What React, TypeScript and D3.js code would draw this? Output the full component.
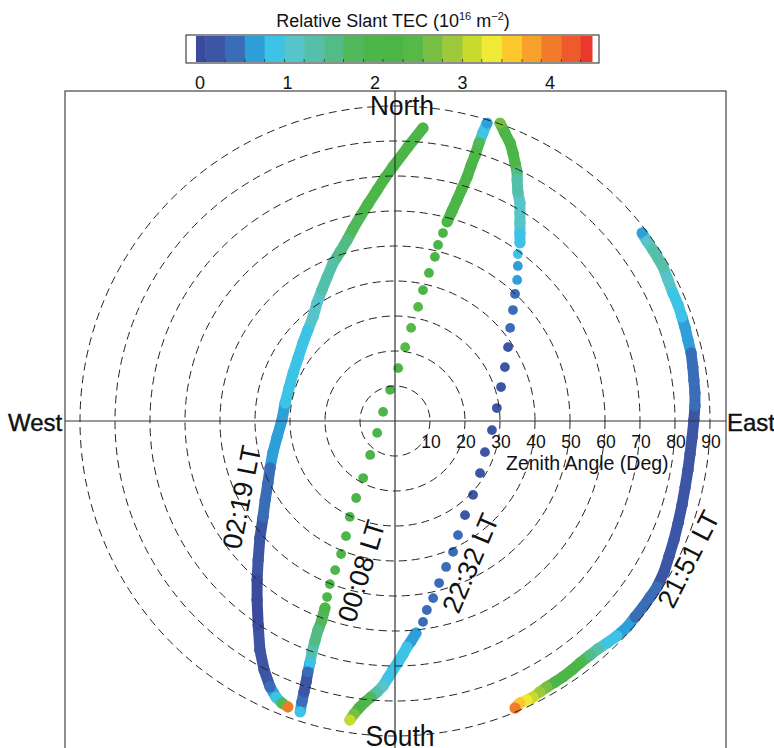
import React from 'react';
import * as d3 from 'd3';

const W = 774;
const H = 748;

// Colour bar (Relative Slant TEC, 10^16 m^-2)
const colorbarDomain = [-0.046, 4.48];
const colorbarBinEdges = [0.06, 0.286, 0.513, 0.739, 0.966, 1.19, 1.42, 1.64, 1.87, 2.09, 2.32, 2.55, 2.77, 3.0, 3.22, 3.45, 3.68, 3.9, 4.13, 4.35];
const colorbarColors = ['#3a4a9f', '#3d55a5', '#3a6db7', '#2f9fd9', '#3cc3e6', '#56c4c8', '#55c0aa', '#52bb86', '#50b85a', '#4cb748', '#4bb647', '#55b847', '#77be43', '#9ec93a', '#c9da2f', '#eeea36', '#fdc82b', '#f7a02a', '#f27a2b', '#ee5a2b', '#e9392a'];
const colorbarTicks = [0, 1, 2, 3, 4];
const zenithTicks = [10, 20, 30, 40, 50, 60, 70, 80, 90];

// Tracks: [east component (deg), north component (deg), relative slant TEC]
const track0219 = [
  [8.0, 83.7, 2.2], [3.7, 78.3, 2.2], [-0.6, 72.6, 2.2], [-2.9, 69.4, 2.1], [-5.1, 66.0, 2.0],
  [-7.7, 62.0, 1.95], [-10.0, 58.3, 1.8], [-12.0, 54.9, 1.7], [-13.7, 51.7, 1.6], [-15.7, 48.3, 1.5],
  [-17.7, 45.1, 1.4], [-19.4, 41.1, 1.3], [-20.9, 37.4, 1.2], [-22.3, 33.7, 1.1], [-23.4, 29.7, 1.05],
  [-24.9, 26.0, 0.95], [-26.3, 22.3, 0.9], [-27.7, 18.0, 0.85], [-29.1, 13.7, 0.85], [-30.3, 9.4, 0.8],
  [-31.4, 5.1, 0.75], [-32.3, 0.3, 0.65], [-33.7, -4.6, 0.6], [-34.9, -9.1, 0.55], [-35.7, -13.4, 0.5],
  [-36.3, -17.7, 0.45], [-37.1, -22.6, 0.4], [-37.7, -27.4, 0.3], [-38.6, -33.4, 0.2], [-39.1, -39.7, 0.1],
  [-39.4, -45.4, 0.05], [-39.4, -51.1, 0.05], [-39.1, -58.3, 0.05], [-38.6, -65.4, 0.1], [-37.4, -71.1, 0.15],
  [-35.7, -76.0, 0.3], [-34.0, -78.9, 0.8], [-32.3, -80.6, 1.8], [-30.6, -81.7, 3.9],
];

const track0008Head = [
  [26.3, 85.1, 0.6], [25.1, 82.3, 0.9], [24.0, 79.4, 1.8], [22.9, 76.0, 2.0], [21.7, 72.9, 2.1],
  [20.6, 69.7, 2.1], [19.1, 66.3, 2.1], [17.7, 63.1, 2.1], [16.3, 60.0, 2.1], [14.9, 56.9, 2.1],
];
const track0008Dots = [
  [13.7, 53.7, 2.1], [12.3, 50.3, 2.1], [11.4, 46.9, 2.1], [9.7, 42.3, 2.1], [8.0, 37.4, 2.2],
  [6.6, 32.6, 2.4], [4.6, 26.6, 2.5], [2.9, 21.1, 2.45], [0.9, 15.1, 2.3], [-1.4, 8.9, 2.2],
  [-3.4, 2.6, 2.2], [-5.1, -3.4, 2.1], [-7.1, -9.7, 2.1], [-9.1, -16.3, 2.1], [-11.1, -22.0, 2.1],
  [-12.9, -27.4, 2.1], [-14.0, -32.9, 2.0], [-15.4, -38.0, 2.0], [-17.1, -42.6, 2.0], [-18.6, -46.6, 1.95],
  [-19.4, -50.3, 1.9],
];
const track0008Tail = [
  [-20.0, -53.4, 1.9], [-20.9, -56.9, 1.75], [-22.0, -59.7, 1.6], [-22.9, -62.9, 1.5], [-23.7, -66.0, 1.3],
  [-24.3, -69.1, 0.9], [-24.9, -71.7, 0.35], [-25.4, -74.6, 0.2], [-26.0, -77.4, 0.2], [-26.6, -80.3, 0.4],
  [-27.1, -83.1, 0.85],
];

const track2232Head = [
  [30.0, 85.1, 2.6], [31.4, 82.3, 2.3], [32.9, 79.4, 2.1], [33.7, 76.6, 2.1], [34.3, 73.7, 1.9],
  [34.9, 71.1, 1.6], [34.9, 68.9, 1.4], [35.1, 65.4, 1.2], [35.7, 62.3, 1.1], [35.7, 59.4, 1.05],
  [35.7, 56.6, 1.0], [35.7, 53.7, 0.95], [35.7, 50.9, 0.85],
];
const track2232Dots = [
  [35.1, 47.7, 0.8], [35.1, 44.3, 0.65], [34.9, 40.3, 0.55], [34.3, 36.3, 0.45], [33.7, 31.7, 0.35],
  [32.9, 26.6, 0.3], [32.3, 21.1, 0.25], [31.4, 15.4, 0.25], [30.3, 9.7, 0.25], [29.1, 3.7, 0.25],
  [27.7, -2.6, 0.25], [25.7, -8.9, 0.25], [24.3, -14.9, 0.25], [22.3, -21.1, 0.25], [20.0, -26.9, 0.25],
  [18.0, -32.6, 0.3], [16.6, -37.4, 0.3], [14.6, -41.7, 0.35], [12.6, -46.3, 0.4], [10.9, -50.6, 0.45],
  [9.1, -54.0, 0.5], [8.0, -57.4, 0.5],
];
const track2232Tail = [
  [6.0, -60.6, 0.55], [4.6, -62.9, 0.6], [3.4, -64.6, 0.75], [2.3, -66.6, 0.85], [0.9, -68.9, 0.9],
  [-0.6, -71.1, 0.9], [-2.0, -73.4, 0.9], [-3.4, -75.7, 1.0], [-5.1, -77.4, 1.4], [-6.9, -78.9, 1.7],
  [-8.6, -80.3, 1.9], [-10.3, -82.0, 2.2], [-11.7, -83.7, 2.7], [-12.9, -85.4, 3.2],
];

const track2151 = [
  [70.6, 53.7, 0.6], [72.0, 51.4, 1.0], [73.7, 48.9, 1.2], [75.1, 46.6, 1.3], [76.6, 44.0, 1.25],
  [78.0, 40.3, 1.1], [79.4, 36.6, 0.9], [80.9, 33.1, 0.85], [82.0, 29.7, 0.75], [82.9, 26.6, 0.65],
  [83.7, 23.1, 0.6], [84.6, 19.4, 0.5], [85.1, 15.4, 0.45], [85.4, 11.7, 0.4], [85.7, 8.0, 0.35],
  [85.7, 4.3, 0.3], [85.4, 0.3, 0.25], [84.9, -4.6, 0.2], [84.3, -9.4, 0.2], [83.7, -14.0, 0.2],
  [82.9, -18.9, 0.2], [82.0, -24.0, 0.2], [80.9, -29.1, 0.2], [79.7, -34.0, 0.2], [78.3, -38.6, 0.2],
  [76.9, -43.1, 0.25], [74.9, -47.4, 0.3], [72.9, -50.3, 0.4], [70.9, -53.1, 0.45], [68.6, -56.0, 0.5],
  [66.3, -58.9, 0.6], [63.4, -61.4, 0.8], [60.6, -63.4, 0.9], [58.0, -65.1, 1.2], [55.7, -66.9, 1.6],
  [52.9, -69.1, 1.9], [50.6, -71.1, 2.1], [48.0, -73.1, 2.1], [45.7, -74.6, 2.3], [43.4, -76.0, 2.6],
  [41.4, -77.4, 2.9], [39.4, -78.9, 3.1], [37.7, -79.7, 3.3], [35.7, -80.6, 3.5], [34.3, -82.0, 4.1],
];

const denseRuns = [track0219, track0008Head, track0008Tail, track2232Head, track2232Tail, track2151];
const dottedRuns = [track0008Dots, track2232Dots];
const trackLabels = ['02:19 LT', '00:08 LT', '22:32 LT', '21:51 LT'];
const trackLabelPlacement = [
  { x: 241, y: 497, a: -79 },
  { x: 361, y: 571, a: -73 },
  { x: 470, y: 563, a: -67 },
  { x: 688, y: 559, a: -63 },
];

export default function App() {
  const cx = 395;
  const cy = 421;
  const r = d3.scaleLinear().domain([0, 90]).range([0, 315]);
  const color = d3.scaleThreshold<number, string>().domain(colorbarBinEdges).range(colorbarColors);
  const px = (e: number) => cx + r(e);
  const py = (n: number) => cy - r(n);
  const cbx = d3.scaleLinear().domain([0, 4]).range([200, 550]);
  const cbEdges = [colorbarDomain[0], ...colorbarBinEdges, colorbarDomain[1]];
  const font = "'Liberation Sans', Arial, Helvetica, sans-serif";

  const frame = { x0: 65, x1: 726, y0: 91, y1: 760 };

  return (
    <svg width={W} height={H} style={{ position: 'absolute', left: 0, top: 0, background: '#fff' }} fontFamily={font}>
      <rect x={0} y={0} width={W} height={H} fill="#fff" />
      {/* Colour bar */}
      <text x={393} y={27} textAnchor="middle" fontSize={18} fill="#111">
        Relative Slant TEC (10
        <tspan fontSize={11} dy={-7}>16</tspan>
        <tspan dy={7}> m</tspan>
        <tspan fontSize={11} dy={-7}>−2</tspan>
        <tspan dy={7}>)</tspan>
      </text>
      <rect x={186} y={35} width={413} height={28} fill="#fff" stroke="#444" strokeWidth={1.2} />
      {cbEdges.slice(0, -1).map((e, i) => (
        <rect key={'cb' + i} x={cbx(e)} y={36} width={cbx(cbEdges[i + 1]) - cbx(e) + 0.5} height={26} fill={colorbarColors[i]} />
      ))}
      {colorbarBinEdges.map((e, i) => (
        <line key={'cbt' + i} x1={cbx(e)} x2={cbx(e)} y1={62} y2={59} stroke="#333" strokeWidth={0.8} />
      ))}
      {colorbarTicks.map((t) => (
        <text key={'cbl' + t} x={cbx(t)} y={89} textAnchor="middle" fontSize={18} fill="#111">{t}</text>
      ))}

      {/* Tracks */}
      {denseRuns.map((run, ri) => (
        <g key={'d' + ri}>
          {run.slice(1).map((p, i) => {
            const q = run[i];
            return (
              <line key={i} x1={px(q[0])} y1={py(q[1])} x2={px(p[0])} y2={py(p[1])}
                stroke={color((q[2] + p[2]) / 2)} strokeWidth={11} strokeLinecap="round" />
            );
          })}
          {run.map((p, i) => (
            <circle key={'c' + i} cx={px(p[0])} cy={py(p[1])} r={5.5} fill={color(p[2])} />
          ))}
        </g>
      ))}
      {dottedRuns.map((run, ri) => (
        <g key={'s' + ri}>
          {run.map((p, i) => (
            <circle key={i} cx={px(p[0])} cy={py(p[1])} r={4.9} fill={color(p[2])} />
          ))}
        </g>
      ))}

      {/* Grid */}
      {zenithTicks.map((t) => (
        <circle key={'g' + t} cx={cx} cy={cy} r={r(t)} fill="none" stroke="#222" strokeWidth={1} strokeDasharray="8,5" />
      ))}
      <line x1={frame.x0} x2={frame.x1} y1={cy} y2={cy} stroke="#333" strokeWidth={1.2} />
      <line x1={cx} x2={cx} y1={frame.y0} y2={frame.y1} stroke="#333" strokeWidth={1.2} />
      <rect x={frame.x0} y={frame.y0} width={frame.x1 - frame.x0} height={frame.y1 - frame.y0} fill="none" stroke="#444" strokeWidth={1.2} />

      {zenithTicks.map((t) => (
        <text key={'zl' + t} x={px(t) + 1} y={448} textAnchor="middle" fontSize={17.5} fill="#111">{t}</text>
      ))}
      <text x={506} y={470} fontSize={19.5} fill="#111">Zenith Angle (Deg)</text>

      {/* Compass labels */}
      <text x={402} y={115} textAnchor="middle" fontSize={27} textLength={64} lengthAdjust="spacingAndGlyphs" fill="#111">North</text>
      <text x={400} y={746} textAnchor="middle" fontSize={29} textLength={69} lengthAdjust="spacingAndGlyphs" fill="#111">South</text>
      <text x={8} y={431} fontSize={24} fill="#111" stroke="#111" strokeWidth={0.4}>West</text>
      <text x={727} y={431} fontSize={24} fill="#111" stroke="#111" strokeWidth={0.4}>East</text>

      {/* Track labels */}
      {trackLabels.map((l, i) => {
        const p = trackLabelPlacement[i];
        return (
          <text key={l} transform={`translate(${p.x},${p.y}) rotate(${p.a})`} textAnchor="middle" dy="0.36em" fontSize={27} fill="#111">{l}</text>
        );
      })}
    </svg>
  );
}
